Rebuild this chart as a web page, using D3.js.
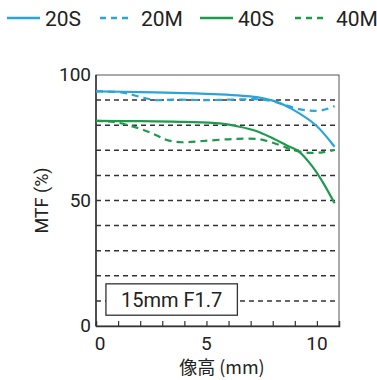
<!DOCTYPE html>
<html>
<head>
<meta charset="utf-8">
<script src="https://cdn.jsdelivr.net/npm/d3@7"></script>
<style>
  body { margin: 0; background: #fff; }
  text { font-family: Roboto, "DejaVu Sans", sans-serif; fill: #222; }
</style>
</head>
<body>
<div id="chart"></div>
<script>
// --- Dữ liệu ---
const series = ["20S", "20M", "40S", "40M"];
const colors = ["#2ba4dc", "#2ba4dc", "#1e9a4c", "#1e9a4c"];
const dashed = [false, true, false, true];

const x20S = [0, 2, 4, 5.6, 6.65, 7.4, 8.15, 8.9, 9.95, 10.8];
const y20S = [93.5, 93.2, 92.8, 92.3, 91.7, 91.0, 89.4, 86.3, 80, 71.4];

const x20M = [0, 1.2, 2, 2.7, 3.5, 5, 6.65, 7.4, 8.15, 9.05, 9.65, 10.25, 10.8];
const y20M = [93.5, 93, 91.3, 90, 90.2, 90, 90.3, 90.3, 89.2, 86.7, 85.8, 86, 87.6];

const x40S = [0, 2, 4, 5.6, 6.5, 7.25, 8.0, 8.6, 9.2, 9.8, 10.25, 10.8];
const y40S = [81.7, 81.6, 81.3, 80.7, 79.4, 77.7, 74.8, 72.1, 69.4, 63.5, 57.5, 48.9];

const x40M = [0, 0.8, 2, 2.7, 3.2, 3.9, 4.85, 6.2, 7.4, 8.3, 8.9, 9.65, 10.25, 10.8];
const y40M = [81.7, 81.3, 78.6, 76.1, 74.1, 73.2, 73.7, 74.5, 74.4, 72.1, 70.1, 69, 69.2, 70.1];

const xs = [x20S, x20M, x40S, x40M];
const ys = [y20S, y20M, y40S, y40M];

const xTickLabels = [0, 5, 10];
const yTickLabels = [0, 50, 100];
const gridValues = [10, 20, 30, 40, 50, 60, 70, 80, 90];
const lensLabel = "15mm F1.7";

// --- Kích thước ---
const W = 377, H = 380;
const margin = { top: 75, right: 38, bottom: 54, left: 96 };
const width = W - margin.left - margin.right,
      height = H - margin.top - margin.bottom;

const root = d3.select("#chart").append("svg")
  .attr("width", W).attr("height", H);

const svg = root.append("g")
  .attr("transform", `translate(${margin.left},${margin.top})`);

// --- Scale ---
const x = d3.scaleLinear().domain([0, 11]).range([0, width]);
const y = d3.scaleLinear().domain([0, 100]).range([height, 0]);

// --- Lưới ---
svg.selectAll(".grid")
  .data(gridValues)
  .enter().append("line")
    .attr("x1", 0).attr("x2", width)
    .attr("y1", d => y(d)).attr("y2", d => y(d))
    .attr("stroke", "#333")
    .attr("stroke-width", 1.5)
    .attr("stroke-dasharray", "5,4");

// --- Khung ---
svg.append("rect")
  .attr("width", width).attr("height", height)
  .attr("fill", "none")
  .attr("stroke", "#555")
  .attr("stroke-width", 1);

// --- Trục X ---
const xAxis = svg.append("g")
  .attr("transform", `translate(0,${height})`)
  .call(d3.axisBottom(x).tickValues(d3.range(1, 11)).tickSize(-5).tickFormat(""));
xAxis.select(".domain").attr("stroke", "#333").attr("stroke-width", 1.5);
xAxis.selectAll(".tick line").attr("stroke", "#333").attr("stroke-width", 1.2);

svg.selectAll(".xlab")
  .data(xTickLabels)
  .enter().append("text")
    .attr("x", d => x(d) + (d === 0 ? 4 : 0))
    .attr("y", height + 24)
    .attr("text-anchor", "middle")
    .style("font-size", "19px")
    .text(d => d);

// --- Trục Y ---
svg.append("line")
  .attr("x1", 0).attr("x2", 0).attr("y1", 0).attr("y2", height)
  .attr("stroke", "#333").attr("stroke-width", 1.5);

svg.selectAll(".ylab")
  .data(yTickLabels)
  .enter().append("text")
    .attr("x", -5)
    .attr("y", d => y(d) + 6)
    .attr("text-anchor", "end")
    .style("font-size", "19px")
    .text(d => d);

// --- Tiêu đề trục ---
svg.append("text")
  .attr("transform", `translate(${-48},${height / 2}) rotate(-90)`)
  .attr("text-anchor", "middle")
  .style("font-size", "18px")
  .text("MTF (%)");

svg.append("text")
  .attr("x", x(5.7))
  .attr("y", height + 48)
  .attr("text-anchor", "middle")
  .style("font-size", "18px")
  .style("font-family", "'Noto Sans CJK JP', sans-serif")
  .text("像高 (mm)");

// --- Đường MTF ---
const line = d3.line()
  .x(d => x(d[0]))
  .y(d => y(d[1]))
  .curve(d3.curveCatmullRom.alpha(0.5));

series.forEach((s, i) => {
  const pts = xs[i].map((v, k) => [v, ys[i][k]]);
  svg.append("path")
    .attr("d", line(pts))
    .attr("fill", "none")
    .attr("stroke", colors[i])
    .attr("stroke-width", 2.2)
    .attr("stroke-dasharray", dashed[i] ? "7,5" : null);
});

// --- Hộp nhãn ống kính ---
const box = svg.append("g");
box.append("rect")
  .attr("x", x(0.45)).attr("y", y(16.8))
  .attr("width", x(6.4) - x(0.45)).attr("height", y(4.3) - y(16.8))
  .attr("fill", "#fff")
  .attr("stroke", "#333")
  .attr("stroke-width", 1.3);
box.append("text")
  .attr("x", (x(0.45) + x(6.4)) / 2)
  .attr("y", y(10.5) + 7)
  .attr("text-anchor", "middle")
  .style("font-size", "20px")
  .text(lensLabel);

// --- Chú giải ---
const legendX = [7, 100, 200, 295];
series.forEach((s, i) => {
  const g = root.append("g").attr("transform", `translate(${legendX[i]},18)`);
  g.append("line")
    .attr("x1", 0).attr("x2", 33)
    .attr("stroke", colors[i])
    .attr("stroke-width", 2.5)
    .attr("stroke-dasharray", dashed[i] ? "6,5" : null);
  g.append("text")
    .attr("x", dashed[i] ? 41 : 38)
    .attr("y", 8)
    .style("font-size", "21px")
    .text(s);
});
</script>
</body>
</html>
